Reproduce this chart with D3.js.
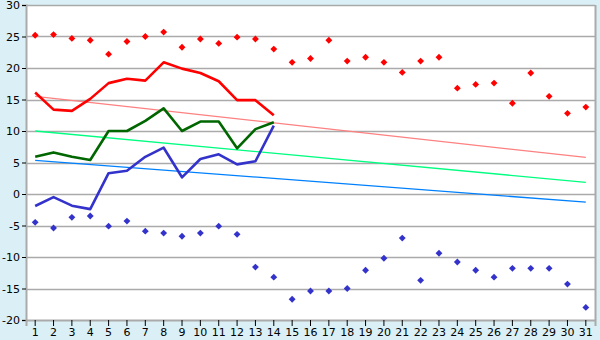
<!DOCTYPE html>
<html>
<head>
<meta charset="utf-8">
<script src="https://cdn.jsdelivr.net/npm/d3@7/dist/d3.min.js"></script>
<style>
  body { margin: 0; background: #daf0f6; }
  svg { display: block; }
  .tick text { font-family: "DejaVu Sans", Verdana, sans-serif; font-size: 11px; fill: #000; }
</style>
</head>
<body>
<div id="chart-container"></div>
<script>
// Days of the month
const days = d3.range(1, 32).map(String);

// Daily maximum and minimum (scattered diamonds)
const maxPoints = [25.2, 25.3, 24.7, 24.4, 22.2, 24.2, 25.0, 25.7, 23.3, 24.6,
  23.9, 24.9, 24.6, 23.0, 20.9, 21.5, 24.4, 21.1, 21.7, 20.9,
  19.3, 21.1, 21.7, 16.8, 17.4, 17.6, 14.4, 19.2, 15.5, 12.8, 13.8];
const minPoints = [-4.5, -5.4, -3.7, -3.5, -5.1, -4.3, -5.9, -6.2, -6.7, -6.2,
  -5.1, -6.4, -11.6, -13.2, -16.7, -15.4, -15.4, -15.0, -12.1, -10.2,
  -7.0, -13.7, -9.4, -10.8, -12.1, -13.2, -11.8, -11.8, -11.8, -14.3, -18.0];

// Measured lines, days 1-14
const redLine = [16.1, 13.4, 13.2, 15.1, 17.6, 18.3, 18.0, 20.9, 19.9, 19.2, 17.9, 14.9, 14.9, 12.5];
const greenLine = [5.9, 6.6, 5.9, 5.4, 10.0, 10.0, 11.6, 13.6, 10.0, 11.5, 11.5, 7.25, 10.3, 11.4];
const blueLine = [-1.9, -0.5, -1.85, -2.4, 3.3, 3.7, 5.9, 7.35, 2.65, 5.55, 6.3, 4.7, 5.2, 10.85];

// Trend lines: value on day 1 and day 31
const redTrend = [15.5, 5.8];
const greenTrend = [10.0, 1.85];
const blueTrend = [5.35, -1.3];

const yTicks = [30, 25, 20, 15, 10, 5, 0, -5, -10, -15, -20];

const margin = { top: 5, right: 5, bottom: 20, left: 26 };
const width = 600 - margin.left - margin.right;
const height = 340 - margin.top - margin.bottom;

const svg = d3.select("#chart-container")
    .append("svg")
    .attr("width", 600)
    .attr("height", 340)
    .append("g")
    .attr("transform", `translate(${margin.left},${margin.top})`);

// Scales
const xScale = d3.scaleBand()
    .domain(days)
    .range([0, width]);

const yScale = d3.scaleLinear()
    .domain([-20, 30])
    .range([height, 0]);

const cx = d => xScale(d) + xScale.bandwidth() / 2;

// Plot background
svg.append("rect")
    .attr("width", width)
    .attr("height", height)
    .attr("fill", "#fff");

// Grid lines
svg.append("g")
    .selectAll("line")
    .data(yTicks.filter(v => v > -20))
    .enter()
    .append("line")
    .attr("x1", 0)
    .attr("x2", width)
    .attr("y1", d => Math.round(yScale(d)) + 0.5)
    .attr("y2", d => Math.round(yScale(d)) + 0.5)
    .attr("stroke", "#aaa")
    .attr("stroke-width", 1.5);

// Right border
svg.append("line")
    .attr("x1", width + 0.5).attr("x2", width + 0.5)
    .attr("y1", 0).attr("y2", height)
    .attr("stroke", "#aaa")
    .attr("stroke-width", 2);

// Axes (plain hyphen for negatives, like the original)
const yAxis = svg.append("g")
    .call(d3.axisLeft(yScale).tickValues(yTicks).tickSize(4).tickPadding(2)
        .tickFormat(d => String(d)));
const xAxis = svg.append("g")
    .attr("transform", `translate(0,${height})`)
    .call(d3.axisBottom(xScale).tickSize(6).tickPadding(2));
[yAxis, xAxis].forEach(ax => {
    ax.select(".domain").attr("stroke", "#aaa").attr("stroke-width", 2);
    ax.selectAll(".tick line").attr("stroke", "#000");
});

// Trend lines
const trends = [
    { v: redTrend, color: "#ff8080" },
    { v: greenTrend, color: "#00ff80" },
    { v: blueTrend, color: "#0080ff" }
];
trends.forEach(t => {
    svg.append("line")
        .attr("x1", cx(days[0]))
        .attr("x2", cx(days[days.length - 1]))
        .attr("y1", yScale(t.v[0]))
        .attr("y2", yScale(t.v[1]))
        .attr("stroke", t.color)
        .attr("stroke-width", 1.3);
});

// Measured lines
const line = d3.line()
    .x((d, i) => cx(days[i]))
    .y(d => yScale(d));
[
    { v: redLine, color: "#ff0000" },
    { v: greenLine, color: "#006600" },
    { v: blueLine, color: "#3333cc" }
].forEach(s => {
    svg.append("path")
        .datum(s.v)
        .attr("d", line)
        .attr("fill", "none")
        .attr("stroke", s.color)
        .attr("stroke-width", 2.6)
        .attr("stroke-linejoin", "round");
});

// Diamond markers
const diamond = d3.symbol().type(d3.symbolDiamond2).size(30);
[
    { v: maxPoints, color: "#ff0000" },
    { v: minPoints, color: "#3333cc" }
].forEach(s => {
    svg.append("g")
        .selectAll("path")
        .data(s.v)
        .enter()
        .append("path")
        .attr("d", diamond)
        .attr("transform", (d, i) => `translate(${cx(days[i])},${yScale(d)})`)
        .attr("fill", s.color);
});
</script>
</body>
</html>
